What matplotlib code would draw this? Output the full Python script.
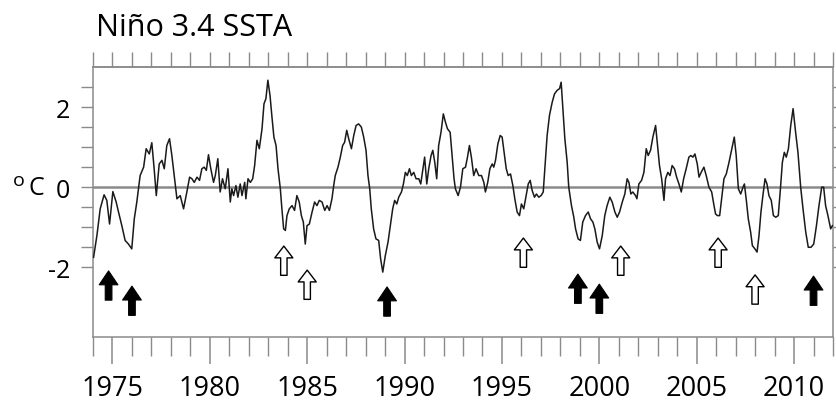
import matplotlib
matplotlib.use("Agg")
import matplotlib.pyplot as plt
from matplotlib.patches import ArrowStyle
from matplotlib.ticker import FixedLocator, NullFormatter

plt.rcParams['font.family'] = ['Open Sans', 'DejaVu Sans']

# ---------------- data ----------------
years = [
    1974.03, 1974.20, 1974.37, 1974.57, 1974.71, 1974.85, 1975.02, 1975.19, 1975.31, 1975.48,
    1975.65, 1975.82, 1975.99, 1976.12, 1976.25, 1976.42, 1976.60, 1976.73, 1976.89, 1977.02,
    1977.14, 1977.25, 1977.40, 1977.54, 1977.66, 1977.79, 1977.93, 1978.05, 1978.17, 1978.31,
    1978.48, 1978.65, 1978.82, 1978.96, 1979.08, 1979.20, 1979.34, 1979.47, 1979.59, 1979.71,
    1979.82, 1979.93, 1980.05, 1980.19,
    1980.28, 1980.41, 1980.53, 1980.65, 1980.79, 1980.93, 1981.05, 1981.13, 1981.22, 1981.34,
    1981.44, 1981.56, 1981.65, 1981.79, 1981.85, 1981.96, 1982.08, 1982.20, 1982.30, 1982.42,
    1982.54, 1982.68, 1982.78, 1982.88, 1982.98, 1983.09, 1983.19, 1983.29, 1983.40, 1983.50,
    1983.62, 1983.70, 1983.79, 1983.88, 1983.96, 1984.08, 1984.22, 1984.35, 1984.47, 1984.59,
    1984.70, 1984.80, 1984.90, 1984.99, 1985.11, 1985.25, 1985.38, 1985.50, 1985.62, 1985.76,
    1985.90, 1986.02, 1986.14, 1986.27, 1986.36,
    1986.44, 1986.58, 1986.70, 1986.82, 1986.92, 1987.03, 1987.13, 1987.27, 1987.39, 1987.51,
    1987.64, 1987.78, 1987.90, 1988.02, 1988.12, 1988.21, 1988.29, 1988.41, 1988.53, 1988.67,
    1988.77, 1988.88, 1989.01, 1989.15, 1989.27, 1989.39, 1989.49, 1989.60, 1989.70, 1989.84,
    1989.94, 1990.04, 1990.14, 1990.25, 1990.35, 1990.47, 1990.59, 1990.73, 1990.83, 1990.93,
    1991.03, 1991.14, 1991.24, 1991.36, 1991.45, 1991.55, 1991.65, 1991.75, 1991.87, 1991.99,
    1992.10, 1992.20, 1992.34, 1992.44, 1992.54,
    1992.61, 1992.75, 1992.87, 1992.99, 1993.13, 1993.23, 1993.33, 1993.43, 1993.55, 1993.67,
    1993.81, 1993.95, 1994.07, 1994.15, 1994.27, 1994.38, 1994.50, 1994.58, 1994.67, 1994.79,
    1994.91, 1995.01, 1995.11, 1995.22, 1995.32, 1995.44, 1995.56, 1995.66, 1995.78, 1995.90,
    1996.00, 1996.12, 1996.24, 1996.35, 1996.45, 1996.55, 1996.67, 1996.77, 1996.89, 1997.01,
    1997.12, 1997.20, 1997.32, 1997.44, 1997.58, 1997.70, 1997.84, 1997.96, 1998.04, 1998.13,
    1998.23, 1998.35, 1998.43, 1998.57, 1998.69,
    1998.78, 1998.91, 1999.03, 1999.15, 1999.29, 1999.43, 1999.55, 1999.67, 1999.77, 1999.89,
    2000.01, 2000.15, 2000.28, 2000.40, 2000.54, 2000.66, 2000.80, 2000.92, 2001.04, 2001.18,
    2001.31, 2001.43, 2001.52, 2001.62, 2001.72, 2001.86, 2001.93, 2002.03, 2002.17, 2002.29,
    2002.41, 2002.51, 2002.63, 2002.75, 2002.89, 2002.99, 2003.09, 2003.20, 2003.32, 2003.40,
    2003.52, 2003.63, 2003.74, 2003.86, 2003.97, 2004.09, 2004.21, 2004.33, 2004.46, 2004.60,
    2004.70, 2004.81, 2004.91,
    2005.03, 2005.12, 2005.24, 2005.37, 2005.49, 2005.63, 2005.77, 2005.89, 2005.97, 2006.07,
    2006.18, 2006.28, 2006.40, 2006.52, 2006.66, 2006.79, 2006.93, 2007.03, 2007.14, 2007.26,
    2007.38, 2007.45, 2007.55, 2007.65, 2007.77, 2007.86, 2007.99, 2008.10, 2008.20, 2008.30,
    2008.40, 2008.51, 2008.61, 2008.71, 2008.83, 2008.94, 2009.06, 2009.19, 2009.30, 2009.40,
    2009.50, 2009.60, 2009.71, 2009.83, 2009.95, 2010.08, 2010.20, 2010.34, 2010.46, 2010.60,
    2010.73, 2010.87, 2011.01, 2011.15, 2011.28, 2011.42, 2011.52, 2011.62, 2011.74, 2011.88,
    2011.97,
]

ssta = [
    -1.75, -1.21, -0.54, -0.19, -0.33, -0.92, -0.11, -0.37, -0.62, -0.96,
    -1.33, -1.42, -1.54, -0.79, -0.37, 0.29, 0.50, 0.96, 0.83, 1.11,
    0.46, -0.21, 0.58, 0.67, 0.46, 1.04, 1.21, 0.79, 0.29, -0.29,
    -0.21, -0.54, -0.12, 0.25, 0.21, 0.12, 0.25, 0.17, 0.46, 0.50,
    0.42, 0.81, 0.46, 0.12,
    0.29, 0.71, -0.12, 0.21, -0.04, 0.46, -0.37, -0.04, -0.21, 0.04,
    -0.25, 0.08, -0.21, 0.12, -0.29, 0.21, 0.12, 0.21, 0.54, 1.17,
    0.96, 1.46, 2.08, 2.21, 2.67, 2.29, 1.75, 1.25, 1.04, 0.46,
    -0.04, -0.54, -1.04, -1.08, -0.71, -0.54, -0.46, -0.58, -0.21, -0.37,
    -0.71, -0.87, -1.42, -0.96, -0.92, -0.62, -0.37, -0.46, -0.33, -0.37,
    -0.58, -0.46, -0.58, -0.29, 0.04,
    0.29, 0.50, 0.75, 1.04, 1.12, 1.42, 1.21, 0.96, 1.29, 1.54,
    1.58, 1.50, 1.25, 0.92, 0.29, -0.04, -0.54, -1.04, -1.29, -1.33,
    -1.79, -2.12, -1.71, -1.37, -0.96, -0.54, -0.33, -0.42, -0.25, -0.12,
    0.08, 0.37, 0.29, 0.46, 0.29, 0.37, 0.21, 0.21, 0.08, 0.42,
    0.75, 0.08, 0.46, 0.79, 0.92, 0.62, 0.21, 1.04, 1.37, 1.83,
    1.62, 1.46, 1.37, 0.79, 0.21,
    -0.04, -0.21, 0.00, 0.46, 0.50, 0.75, 1.04, 0.75, 0.29, 0.46,
    0.29, 0.29, 0.12, -0.12, 0.12, 0.46, 0.58, 0.50, 0.67, 1.08,
    1.29, 1.25, 0.87, 0.46, 0.29, 0.33, 0.04, -0.29, -0.62, -0.71,
    -0.42, -0.54, -0.21, 0.08, 0.17, -0.08, -0.25, -0.17, -0.25, -0.21,
    -0.12, 0.46, 1.29, 1.79, 2.12, 2.33, 2.42, 2.46, 2.62, 1.96,
    1.21, 0.62, 0.00, -0.46, -0.75,
    -1.04, -1.29, -1.33, -0.87, -0.71, -0.62, -0.79, -0.87, -1.04, -1.37,
    -1.54, -1.21, -0.71, -0.46, -0.25, -0.37, -0.62, -0.75, -0.62, -0.37,
    -0.17, 0.21, 0.12, -0.17, -0.12, -0.21, -0.29, 0.08, 0.17, 0.37,
    0.96, 0.79, 0.92, 1.25, 1.54, 1.04, 0.54, 0.21, -0.33, 0.21,
    0.37, 0.29, 0.54, 0.46, 0.25, 0.08, -0.12, 0.21, 0.46, 0.75,
    0.79, 0.75, 0.83,
    0.58, 0.25, 0.38, 0.50, 0.29, 0.00, -0.12, -0.46, -0.67, -0.71,
    -0.71, -0.29, 0.21, 0.33, 0.62, 0.92, 1.25, 0.79, -0.04, -0.17,
    0.00, 0.08, -0.33, -0.79, -1.12, -1.46, -1.54, -1.62, -1.21, -0.62,
    -0.21, 0.21, 0.08, -0.21, -0.33, -0.71, -0.75, -0.71, -0.04, 0.62,
    0.87, 0.75, 0.96, 1.54, 1.96, 1.37, 0.87, 0.00, -0.54, -1.12,
    -1.50, -1.50, -1.42, -0.96, -0.46, 0.00, 0.00, -0.46, -0.71, -1.04,
    -0.96,
]

# arrows: (year, arrow-tip value)
filled_years = [1974.8, 1976.0, 1989.1, 1998.9, 2000.0, 2011.0]
filled_tips = [-2.09, -2.47, -2.49, -2.17, -2.42, -2.22]
hollow_years = [1983.8, 1985.0, 1996.1, 2001.1, 2006.1, 2008.0]
hollow_tips = [-1.47, -2.07, -1.27, -1.47, -1.27, -2.19]

x_major = [1975, 1980, 1985, 1990, 1995, 2000, 2005, 2010]
x_minor = list(range(1974, 2013))
y_major = [-2, 0, 2]
y_minor = [-1.5, -1.0, -0.5, 0.5, 1.0, 1.5, 2.5]

title = "Niño 3.4 SSTA"

# ---------------- figure ----------------
W, H = 837, 406
fig = plt.figure(figsize=(W / 100, H / 100), dpi=100)
ax = fig.add_axes([93 / W, 1 - 338 / H, (833 - 93) / W, (338 - 68) / H])

grey = '#8a8a8a'
ax.axhline(0, color=grey, lw=1.8, zorder=1)
ax.plot(years, ssta, color='#1a1a1a', lw=1.1, zorder=3)

ax.set_xlim(1974, 2012)
ax.set_ylim(-3.74, 3.0)

arrow_len = 0.73
style = ArrowStyle.Simple(head_length=10.0, head_width=13.5, tail_width=4.8)
for yr, tip in zip(filled_years, filled_tips):
    ax.annotate('', xy=(yr, tip), xytext=(yr, tip - arrow_len),
                arrowprops=dict(arrowstyle=style, mutation_scale=1, shrinkA=0, shrinkB=0,
                                fc='black', ec='black', lw=0.8))
style_h = ArrowStyle.Simple(head_length=8.5, head_width=13.0, tail_width=4.6)
for yr, tip in zip(hollow_years, hollow_tips):
    ax.annotate('', xy=(yr, tip), xytext=(yr, tip - arrow_len),
                arrowprops=dict(arrowstyle=style_h, mutation_scale=1, shrinkA=0, shrinkB=0,
                                fc='white', ec='black', lw=1.0))

for s in ax.spines.values():
    s.set_color(grey)
    s.set_linewidth(1.1)

ax.xaxis.set_major_locator(FixedLocator(x_major))
ax.xaxis.set_minor_locator(FixedLocator(x_minor))
ax.set_xticklabels([str(v) for v in x_major])
ax.xaxis.set_minor_formatter(NullFormatter())
ax.tick_params(axis='x', which='major', direction='out', length=19.4, width=1.1,
               color=grey, labelsize=19.5, pad=7, top=False)
ax.tick_params(axis='x', which='minor', direction='out', length=13.5, width=1.0,
               color=grey, top=False)

ax.yaxis.set_major_locator(FixedLocator(y_major))
ax.yaxis.set_minor_locator(FixedLocator(y_minor))
ax.set_yticklabels([str(v) for v in y_major])
ax.tick_params(axis='y', which='both', direction='out', length=8.6, width=1.0,
               color=grey, labelsize=18, pad=8, right=True)

sec = ax.secondary_xaxis('top')
sec.xaxis.set_major_locator(FixedLocator(x_minor))
sec.xaxis.set_major_formatter(NullFormatter())
sec.tick_params(axis='x', which='major', direction='out', length=10.8, width=1.0, color=grey)
sec.spines['top'].set_color(grey)
sec.spines['top'].set_linewidth(1.1)

fig.text(96 / W, 1 - 36 / H, title, fontsize=22, ha='left', va='baseline')
# unit label: superscript o + C
fig.text(13 / W, 1 - 181 / H, 'o', fontsize=14, ha='left', va='center')
fig.text(29 / W, 1 - 189 / H, 'C', fontsize=18, ha='left', va='center')

fig.savefig('out.png', dpi=100)
